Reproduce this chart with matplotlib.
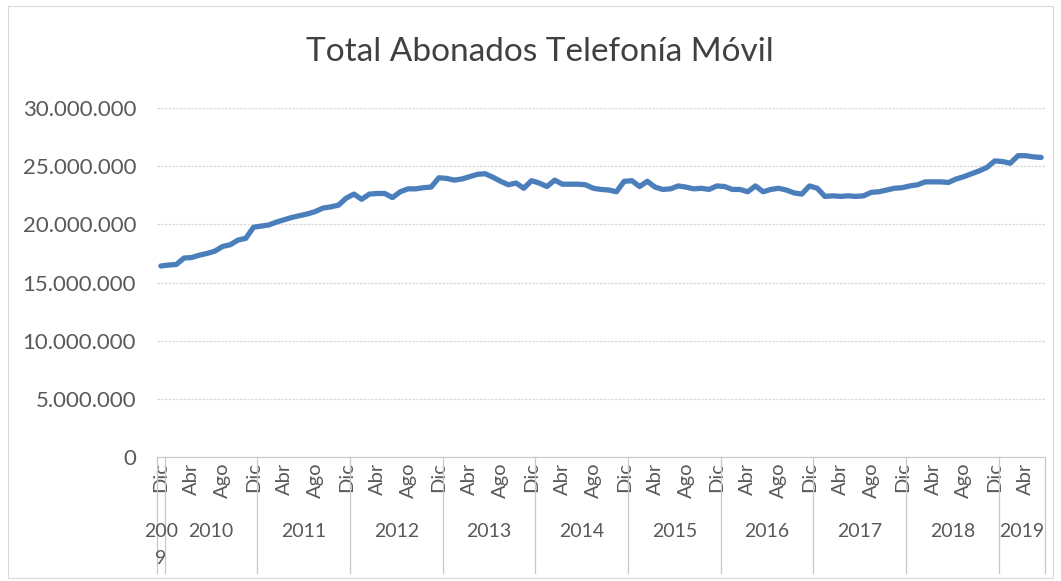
import numpy as np
import matplotlib
matplotlib.use('Agg')
import matplotlib.pyplot as plt

plt.rcParams['font.family'] = ['Lato', 'DejaVu Sans']

# abonados (millones), mensual desde Dic 2009 hasta Jun 2019
abonados = [
    16.42, 16.50, 16.55, 17.10, 17.15, 17.35, 17.50, 17.70, 18.10, 18.25, 18.65, 18.80,
    19.75, 19.85, 19.95, 20.20, 20.40, 20.60, 20.75, 20.90, 21.10, 21.40, 21.50, 21.65,
    22.25, 22.60, 22.15, 22.60, 22.65, 22.65, 22.30, 22.80, 23.05, 23.05, 23.15, 23.20,
    24.00, 23.95, 23.80, 23.90, 24.10, 24.30, 24.35, 24.05, 23.70, 23.40, 23.55, 23.10,
    23.75, 23.55, 23.25, 23.80, 23.45, 23.45, 23.45, 23.40, 23.10, 23.00, 22.95, 22.80,
    23.70, 23.75, 23.25, 23.70, 23.20, 23.00, 23.05, 23.30, 23.20, 23.05, 23.10, 23.00,
    23.30, 23.25, 23.00, 23.00, 22.80, 23.30, 22.80, 23.00, 23.10, 22.95, 22.70, 22.60,
    23.30, 23.10, 22.40, 22.45, 22.40, 22.45, 22.40, 22.45, 22.75, 22.80, 22.95, 23.10,
    23.15, 23.30, 23.40, 23.65, 23.65, 23.65, 23.60, 23.90, 24.10, 24.35, 24.60, 24.90,
    25.45, 25.40, 25.25, 25.90, 25.90, 25.80, 25.75,
]
meses = ['Dic', 'Ene', 'Feb', 'Mar', 'Abr', 'May', 'Jun', 'Jul', 'Ago', 'Sep', 'Oct', 'Nov']
anios = ['200\n9', '2010', '2011', '2012', '2013', '2014', '2015', '2016', '2017', '2018', '2019']
y_ticks = [0, 5, 10, 15, 20, 25, 30]

vals = np.array(abonados) * 1e6
n = len(vals)
x = np.arange(n)

fig = plt.figure(figsize=(10.61, 5.81), dpi=100)
ax = fig.add_axes([157/1061, 1 - 457/581, 888/1061, 349/581])

ax.plot(x, vals, color='#4b7fbc', linewidth=3.8, solid_capstyle='round', solid_joinstyle='round')

ax.set_xlim(-0.5, n - 0.5)
ax.set_ylim(0, 30e6)
ax.set_yticks([v * 1e6 for v in y_ticks])
ax.set_yticklabels(['0' if v == 0 else '{:,}'.format(v * 1000000).replace(',', '.') for v in y_ticks],
                   fontsize=16, color='#595959')
ax.yaxis.grid(True, color='#dcd6dc', linewidth=0.9, linestyle=(0, (2, 1)))
ax.set_axisbelow(True)

tick_pos = [i for i in range(n) if i % 4 == 0]
ax.set_xticks(tick_pos)
ax.set_xticklabels([meses[i % 12] for i in tick_pos], rotation=90, fontsize=14.5, color='#595959', va='top')
ax.tick_params(axis='both', length=0)
ax.tick_params(axis='x', pad=4)
ax.tick_params(axis='y', pad=15)

for s in ['top', 'right', 'left']:
    ax.spines[s].set_visible(False)
ax.spines['bottom'].set_color('#c8c8c8')

trans = ax.get_xaxis_transform()
bottom = -116 / 349
# separadores de año
seps = [-0.5] + [i + 0.5 for i in range(n) if i % 12 == 0] + [n - 0.5]
for s in seps:
    ax.plot([s, s], [0, bottom], transform=trans, color='#c8c8c8', linewidth=0.9, clip_on=False)

# etiquetas de año
for k, lab in enumerate(anios):
    if k == 0:
        cx = 0
    else:
        start = 1 + 12 * (k - 1)
        end = min(start + 11, n - 1)
        cx = (start + end) / 2
    ax.text(cx, -66 / 349, lab, transform=trans, ha='center', va='top', fontsize=14,
            color='#595959', linespacing=1.75)

fig.text(540/1061, 1 - 52/581, 'Total Abonados Telefonía Móvil', ha='center', va='center',
         fontsize=24, color='#404040')

fig.patches.append(plt.Rectangle((8/1061, 0.005), 1 - 16/1061, 0.985, transform=fig.transFigure,
                                 fill=False, edgecolor='#d9d9d9', linewidth=0.8))

fig.savefig('out.png', dpi=100, facecolor='white')
